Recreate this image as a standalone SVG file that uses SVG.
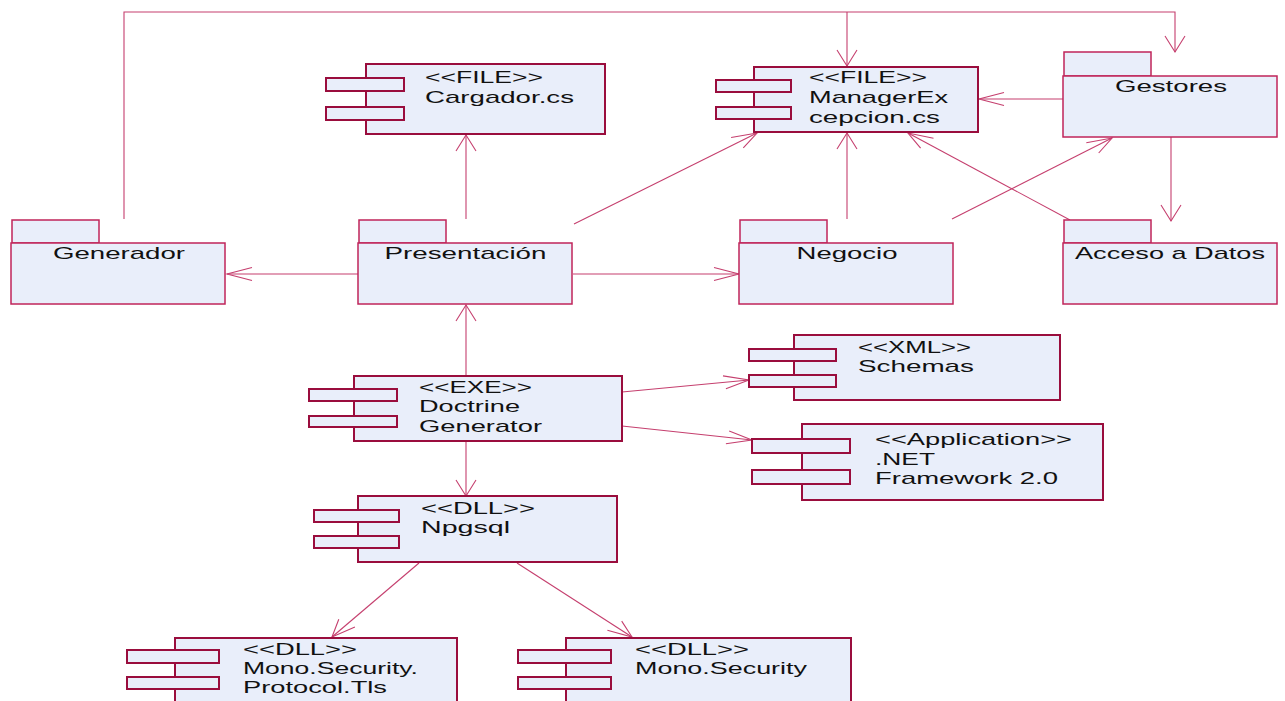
<svg xmlns="http://www.w3.org/2000/svg" width="1285" height="701" viewBox="0 0 1285 701">
  <style>
    .comp { fill: #e9eefa; stroke: #9a0d3d; stroke-width: 2; }
    .pkg { fill: #e9eefa; stroke: #c0245a; stroke-width: 1.5; }
    .con { fill: none; stroke: #c53f6e; stroke-width: 1.1; }
    text { font-family: "Liberation Sans", Arial, sans-serif; font-size: 17px; fill: #111; }
    .mid { text-anchor: middle; }
  </style>
  <rect width="1285" height="701" fill="#ffffff"/>

  <!-- connectors: dependency lines with open arrowheads -->
  <g id="connectors" class="con">
    <!-- Generador to ManagerExcepcion and Gestores over the top -->
    <polyline points="124,219 124,12 1175,12 1175,52"/>
    <path d="M1165,36 L1175,52 L1185,36"/>
    <line x1="847" y1="12" x2="847" y2="66"/>
    <path d="M837,50 L847,66 L857,50"/>
    <!-- Presentacion to Cargador -->
    <line x1="466" y1="219" x2="466" y2="135"/>
    <path d="M456,151 L466,135 L476,151"/>
    <!-- Presentacion to ManagerExcepcion -->
    <line x1="574" y1="224" x2="757" y2="133"/>
    <path d="M743.3,147.9 L757,133 L731.1,137.5"/>
    <!-- Negocio to ManagerExcepcion -->
    <line x1="847" y1="219" x2="847" y2="133"/>
    <path d="M837,149 L847,133 L857,149"/>
    <!-- Negocio to Gestores -->
    <line x1="952" y1="219" x2="1112" y2="138"/>
    <path d="M1098.7,153 L1112,138 L1086.3,142.8"/>
    <!-- Acceso a Datos to ManagerExcepcion -->
    <line x1="1070" y1="220" x2="908" y2="133"/>
    <path d="M933.5,138.3 L908,133 L920.6,148.2"/>
    <!-- Gestores to ManagerExcepcion -->
    <line x1="1063" y1="99" x2="979" y2="99"/>
    <path d="M1004,92.5 L979,99 L1004,105.5"/>
    <!-- Gestores to Acceso a Datos -->
    <line x1="1171" y1="137" x2="1171" y2="221"/>
    <path d="M1161,205 L1171,221 L1181,205"/>
    <!-- Presentacion to Generador -->
    <line x1="358" y1="274" x2="227" y2="274"/>
    <path d="M252,267.5 L227,274 L252,280.5"/>
    <!-- Presentacion to Negocio -->
    <line x1="573" y1="274" x2="739" y2="274"/>
    <path d="M714,267.5 L739,274 L714,280.5"/>
    <!-- Doctrine Generator to Presentacion -->
    <line x1="466" y1="375" x2="466" y2="305"/>
    <path d="M456,321 L466,305 L476,321"/>
    <!-- Doctrine Generator to Npgsql -->
    <line x1="466" y1="441" x2="466" y2="496"/>
    <path d="M456,480 L466,496 L476,480"/>
    <!-- Doctrine Generator to Schemas -->
    <line x1="622" y1="392" x2="749" y2="380"/>
    <path d="M725.9,388.8 L749,380 L723,375.9"/>
    <!-- Doctrine Generator to .NET Framework -->
    <line x1="622" y1="426" x2="752" y2="440"/>
    <path d="M725.9,443.8 L752,440 L729.2,430.9"/>
    <!-- Npgsql to Mono.Security.Protocol.Tls -->
    <line x1="419" y1="563" x2="332" y2="637"/>
    <path d="M338.8,619.3 L332,637 L354.9,627.1"/>
    <!-- Npgsql to Mono.Security -->
    <line x1="517" y1="563" x2="632" y2="637"/>
    <path d="M607.4,630.2 L632,637 L621.7,621.1"/>
  </g>

  <!-- packages -->
  <g id="generador">
    <rect class="pkg" x="12" y="220" width="87" height="23"/>
    <rect class="pkg" x="11" y="243" width="214" height="61"/>
    <text class="mid" x="119" y="259" textLength="132" lengthAdjust="spacingAndGlyphs">Generador</text>
  </g>
  <g id="presentacion">
    <rect class="pkg" x="359" y="220" width="87" height="23"/>
    <rect class="pkg" x="358" y="243" width="214" height="61"/>
    <text class="mid" x="465.5" y="259" textLength="162" lengthAdjust="spacingAndGlyphs">Presentación</text>
  </g>
  <g id="negocio">
    <rect class="pkg" x="740" y="220" width="87" height="23"/>
    <rect class="pkg" x="739" y="243" width="214" height="61"/>
    <text class="mid" x="847" y="259" textLength="101" lengthAdjust="spacingAndGlyphs">Negocio</text>
  </g>
  <g id="acceso-datos">
    <rect class="pkg" x="1064" y="220" width="87" height="23"/>
    <rect class="pkg" x="1063" y="243" width="214" height="61"/>
    <text class="mid" x="1170" y="259" textLength="190" lengthAdjust="spacingAndGlyphs">Acceso a Datos</text>
  </g>
  <g id="gestores">
    <rect class="pkg" x="1064" y="52" width="87" height="24"/>
    <rect class="pkg" x="1063" y="76" width="214" height="61"/>
    <text class="mid" x="1171" y="92" textLength="112" lengthAdjust="spacingAndGlyphs">Gestores</text>
  </g>

  <!-- components -->
  <g id="cargador">
    <rect class="comp" x="366" y="64" width="239" height="70"/>
    <rect class="comp" x="326" y="78" width="78" height="13"/>
    <rect class="comp" x="326" y="107" width="78" height="13"/>
    <text x="425" y="83" textLength="118" lengthAdjust="spacingAndGlyphs">&lt;&lt;FILE&gt;&gt;</text>
    <text x="425" y="103" textLength="149" lengthAdjust="spacingAndGlyphs">Cargador.cs</text>
  </g>
  <g id="manager-excepcion">
    <rect class="comp" x="754" y="67" width="224" height="65"/>
    <rect class="comp" x="716" y="80" width="75" height="12"/>
    <rect class="comp" x="716" y="107" width="75" height="12"/>
    <text x="809" y="83" textLength="118" lengthAdjust="spacingAndGlyphs">&lt;&lt;FILE&gt;&gt;</text>
    <text x="809" y="103" textLength="139" lengthAdjust="spacingAndGlyphs">ManagerEx</text>
    <text x="809" y="123" textLength="131" lengthAdjust="spacingAndGlyphs">cepcion.cs</text>
  </g>
  <g id="schemas">
    <rect class="comp" x="794" y="335" width="266" height="65"/>
    <rect class="comp" x="749" y="349" width="87" height="12"/>
    <rect class="comp" x="749" y="375" width="87" height="12"/>
    <text x="858" y="353" textLength="113" lengthAdjust="spacingAndGlyphs">&lt;&lt;XML&gt;&gt;</text>
    <text x="858" y="372" textLength="116" lengthAdjust="spacingAndGlyphs">Schemas</text>
  </g>
  <g id="net-framework">
    <rect class="comp" x="802" y="424" width="301" height="76"/>
    <rect class="comp" x="752" y="439" width="98" height="14"/>
    <rect class="comp" x="752" y="470" width="98" height="14"/>
    <text x="875" y="445" textLength="197" lengthAdjust="spacingAndGlyphs">&lt;&lt;Application&gt;&gt;</text>
    <text x="875" y="465" textLength="60" lengthAdjust="spacingAndGlyphs">.NET</text>
    <text x="875" y="484" textLength="183" lengthAdjust="spacingAndGlyphs">Framework 2.0</text>
  </g>
  <g id="doctrine-generator">
    <rect class="comp" x="354" y="376" width="268" height="65"/>
    <rect class="comp" x="309" y="389" width="88" height="12"/>
    <rect class="comp" x="309" y="416" width="88" height="11"/>
    <text x="419" y="393" textLength="113" lengthAdjust="spacingAndGlyphs">&lt;&lt;EXE&gt;&gt;</text>
    <text x="419" y="412" textLength="101" lengthAdjust="spacingAndGlyphs">Doctrine</text>
    <text x="419" y="432" textLength="123" lengthAdjust="spacingAndGlyphs">Generator</text>
  </g>
  <g id="npgsql">
    <rect class="comp" x="358" y="496" width="259" height="66"/>
    <rect class="comp" x="314" y="510" width="85" height="12"/>
    <rect class="comp" x="314" y="536" width="85" height="12"/>
    <text x="421" y="514" textLength="114" lengthAdjust="spacingAndGlyphs">&lt;&lt;DLL&gt;&gt;</text>
    <text x="421" y="533" textLength="89" lengthAdjust="spacingAndGlyphs">Npgsql</text>
  </g>
  <g id="mono-security-tls">
    <rect class="comp" x="175" y="638" width="282" height="75"/>
    <rect class="comp" x="127" y="650" width="92" height="13"/>
    <rect class="comp" x="127" y="677" width="92" height="12"/>
    <text x="243" y="655" textLength="114" lengthAdjust="spacingAndGlyphs">&lt;&lt;DLL&gt;&gt;</text>
    <text x="243" y="674" textLength="175" lengthAdjust="spacingAndGlyphs">Mono.Security.</text>
    <text x="243" y="693" textLength="144" lengthAdjust="spacingAndGlyphs">Protocol.Tls</text>
  </g>
  <g id="mono-security">
    <rect class="comp" x="566" y="638" width="285" height="75"/>
    <rect class="comp" x="518" y="650" width="93" height="13"/>
    <rect class="comp" x="518" y="677" width="93" height="12"/>
    <text x="635" y="655" textLength="114" lengthAdjust="spacingAndGlyphs">&lt;&lt;DLL&gt;&gt;</text>
    <text x="635" y="674" textLength="172" lengthAdjust="spacingAndGlyphs">Mono.Security</text>
  </g>
</svg>
